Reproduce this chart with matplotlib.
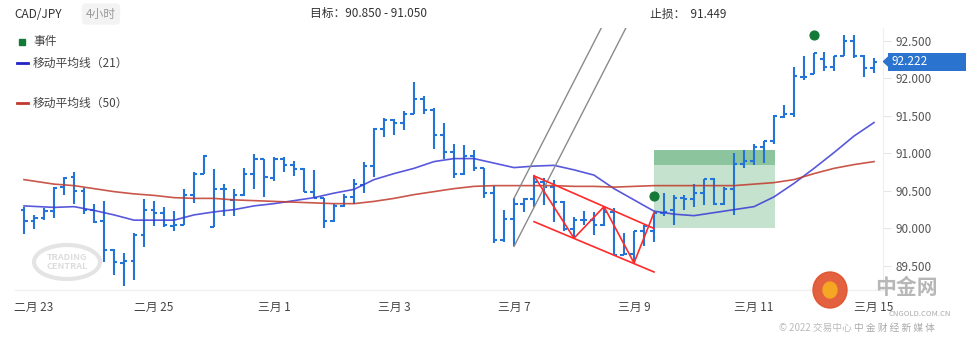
import matplotlib
matplotlib.use("Agg")
import matplotlib.pyplot as plt
import matplotlib.transforms as mtransforms
from matplotlib.patches import Rectangle, Ellipse, Polygon

plt.rcParams["font.family"] = ["Noto Sans CJK SC", "DejaVu Sans"]

# 4h OHLC bars, index 0 = Feb 22 20:00
opens = [90.25, 90.10, 90.14, 90.23, 90.55, 90.68, 90.50, 90.24, 90.10, 89.71,
         89.54, 89.57, 89.91, 90.25, 90.20, 90.03, 90.05, 90.45, 90.73, 90.02,
         90.53, 90.38, 90.44, 90.72, 90.92, 90.67, 90.93, 90.85, 90.79, 90.49,
         90.40, 90.10, 90.30, 90.42, 90.58, 90.83, 91.32, 91.45, 91.41, 91.52,
         91.73, 91.58, 91.24, 91.02, 90.72, 90.96, 90.80, 90.47, 89.84, 90.13,
         90.32, 90.39, 90.62, 90.55, 90.35, 89.99, 90.11, 90.11, 90.04, 90.22,
         89.65, 89.66, 89.97, 89.96, 90.20, 90.24, 90.40, 90.39, 90.47, 90.66,
         90.32, 90.53, 90.86, 90.90, 91.08, 91.17, 91.49, 91.53, 92.02, 92.06,
         92.25, 92.15, 92.29, 92.50, 92.29, 92.14]
highs = [90.29, 90.18, 90.27, 90.55, 90.68, 90.75, 90.54, 90.32, 90.37, 89.72,
         89.67, 89.94, 90.39, 90.37, 90.29, 90.23, 90.53, 90.75, 90.98, 90.79,
         90.59, 90.52, 90.80, 90.99, 90.92, 90.95, 90.95, 90.90, 90.80, 90.78,
         90.40, 90.33, 90.46, 90.66, 90.88, 91.34, 91.47, 91.46, 91.56, 91.95,
         91.76, 91.60, 91.41, 91.12, 91.11, 91.04, 90.80, 90.56, 90.25, 90.40,
         90.40, 90.70, 90.67, 90.65, 90.36, 90.15, 90.23, 90.22, 90.29, 90.27,
         89.94, 89.96, 90.05, 90.21, 90.47, 90.45, 90.45, 90.59, 90.66, 90.67,
         90.55, 91.00, 91.04, 91.13, 91.17, 91.51, 91.65, 92.15, 92.30, 92.34,
         92.35, 92.30, 92.58, 92.58, 92.31, 92.27]
lows = [89.92, 89.99, 90.11, 90.14, 90.45, 90.32, 90.19, 90.07, 89.55, 89.38,
        89.23, 89.31, 89.75, 90.03, 90.02, 89.96, 90.05, 90.34, 90.72, 90.02,
        90.16, 90.17, 90.43, 90.52, 90.42, 90.63, 90.75, 90.70, 90.48, 90.40,
        90.00, 90.08, 90.28, 90.32, 90.47, 90.68, 91.22, 91.25, 91.31, 91.52,
        91.52, 91.06, 90.92, 90.67, 90.71, 90.76, 90.40, 89.80, 89.82, 89.76,
        90.22, 90.29, 90.31, 90.09, 89.97, 89.87, 90.05, 89.91, 90.03, 89.65,
        89.65, 89.54, 89.76, 89.82, 90.17, 90.05, 90.25, 90.29, 90.31, 90.31,
        90.31, 90.18, 90.80, 90.84, 90.87, 91.13, 91.47, 91.49, 91.97, 92.05,
        92.09, 92.09, 92.29, 92.27, 92.02, 92.07]
closes = [90.10, 90.14, 90.23, 90.54, 90.67, 90.50, 90.24, 90.08, 89.71, 89.55,
          89.57, 89.91, 90.25, 90.20, 90.04, 90.05, 90.45, 90.73, 90.97, 90.53,
          90.53, 90.44, 90.72, 90.93, 90.68, 90.93, 90.85, 90.79, 90.49, 90.41,
          90.10, 90.30, 90.42, 90.59, 90.83, 91.33, 91.45, 91.41, 91.52, 91.73,
          91.58, 91.24, 91.02, 90.72, 90.96, 90.80, 90.47, 89.84, 90.13, 90.32,
          90.39, 90.62, 90.55, 90.35, 89.99, 90.11, 90.11, 90.04, 90.22, 89.65,
          89.66, 89.96, 90.03, 90.20, 90.22, 90.40, 90.39, 90.47, 90.66, 90.32,
          90.53, 90.86, 90.90, 91.08, 91.17, 91.50, 91.52, 92.03, 92.01, 92.33,
          92.15, 92.29, 92.50, 92.29, 92.14, 92.22]

# moving averages (bar index, price)
ma_x = [0, 3, 5, 7, 9, 11, 13, 15, 17, 19, 21, 23, 25, 27, 29, 31, 33, 35, 37, 39,
        41, 43, 45, 47, 49, 51, 53, 55, 57, 59, 61, 63, 65, 67, 69, 71, 73, 75, 77,
        79, 81, 83, 85]
ma21 = [90.30, 90.28, 90.29, 90.24, 90.18, 90.11, 90.11, 90.11, 90.18, 90.22, 90.25,
        90.30, 90.33, 90.37, 90.41, 90.47, 90.52, 90.65, 90.73, 90.80, 90.89,
        90.93, 90.93, 90.87, 90.81, 90.83, 90.84, 90.78, 90.71, 90.53, 90.38, 90.23,
        90.19, 90.17, 90.21, 90.25, 90.29, 90.42, 90.60, 90.80, 91.01, 91.23, 91.41]
ma50 = [90.65, 90.59, 90.57, 90.53, 90.49, 90.46, 90.44, 90.41, 90.40, 90.40, 90.38,
        90.37, 90.36, 90.35, 90.34, 90.33, 90.33, 90.36, 90.40, 90.45, 90.49,
        90.53, 90.56, 90.57, 90.57, 90.57, 90.57, 90.56, 90.56, 90.55, 90.56, 90.57,
        90.57, 90.57, 90.57, 90.57, 90.59, 90.61, 90.65, 90.73, 90.80, 90.85, 90.89]

# pattern drawings
zz_x = [51, 55, 58, 61, 63]
zz_y = [90.70, 89.87, 90.29, 89.54, 90.21]
chan_x = [51, 63]
chan_up = [90.70, 90.00]
chan_lo = [90.09, 89.42]
gray_x = [49, 62]
gray_a = [90.40, 93.78]
gray_b = [89.76, 93.14]
box_x = [63, 75.1]
target = [90.85, 91.05]
zone = [90.00, 90.85]
ev_x = [63, 79]
ev_y = [90.43, 92.58]

tick_pos = [1, 13, 25, 37, 49, 61, 73, 85]
tick_lbl = ["二月 23", "二月 25", "三月 1", "三月 3", "三月 7", "三月 9", "三月 11", "三月 15"]
y_ticks = [89.5, 90.0, 90.5, 91.0, 91.5, 92.0, 92.5]
last_price = 92.222

W, H = 966, 343
fig = plt.figure(figsize=(W / 100, H / 100), dpi=100)
ax = fig.add_axes([15 / W, 1 - 290 / H, (883 - 15) / W, (290 - 28) / H])
ax.set_xlim(-0.9, 85.9)
ax.set_ylim(89.18, 92.669)

blue = "#2374d6"

# target / entry box
ax.add_patch(Rectangle((box_x[0], zone[0]), box_x[1] - box_x[0], zone[1] - zone[0],
                       color="#c4e2cd", lw=0, zorder=1))
ax.add_patch(Rectangle((box_x[0], target[0]), box_x[1] - box_x[0], target[1] - target[0],
                       color="#8cc49e", lw=0, zorder=1))

# OHLC bars
tk = 0.35
for i in range(len(opens)):
    ax.plot([i, i], [lows[i], highs[i]], color=blue, lw=1.5, solid_capstyle="butt", zorder=3)
    ax.plot([i - tk, i], [opens[i], opens[i]], color=blue, lw=1.5, solid_capstyle="butt", zorder=3)
    ax.plot([i, i + tk], [closes[i], closes[i]], color=blue, lw=1.5, solid_capstyle="butt", zorder=3)

ax.plot(ma_x, ma21, color="#3b3bd6", lw=1.2, alpha=0.85, zorder=4)
ax.plot(ma_x, ma50, color="#c0392b", lw=1.2, alpha=0.85, zorder=4)

ax.plot(gray_x, gray_a, color="#8a8a8a", lw=1, zorder=5)
ax.plot(gray_x, gray_b, color="#8a8a8a", lw=1, zorder=5)
ax.plot(zz_x, zz_y, color="#ff2a2a", lw=1.2, zorder=5)
ax.plot(chan_x, chan_up, color="#ff2a2a", lw=1.2, zorder=5)
ax.plot(chan_x, chan_lo, color="#ff2a2a", lw=1.2, zorder=5)

ax.scatter(ev_x, ev_y, s=40, color="#137a3a", zorder=6)

# axes styling
for s in ["top", "left", "bottom"]:
    ax.spines[s].set_visible(False)
ax.spines["right"].set_color("#eeeeee")
ax.yaxis.tick_right()
ax.set_yticks(y_ticks)
ax.set_yticklabels([f"{v:.3f}" for v in y_ticks])
ax.tick_params(axis="y", length=6, color="#e6e6e6", labelsize=8.5, labelcolor="#555555", pad=3)
ax.set_xticks(tick_pos)
ax.set_xticklabels(tick_lbl)
ax.tick_params(axis="x", length=0, labelsize=8.5, labelcolor="#444444", pad=8)
ax.axhline(89.18, color="#f0f0f0", lw=1, clip_on=False)

# last price tag
tr = mtransforms.blended_transform_factory(ax.transAxes, ax.transData)
ax.add_patch(Rectangle((1.006, last_price - 0.12), 0.1, 0.24, transform=tr, color="#2a74d0",
                       lw=0, clip_on=False, zorder=9))
ax.add_patch(Polygon([[1.0005, last_price], [1.007, last_price + 0.07], [1.007, last_price - 0.07]],
                     closed=True, transform=tr, color="#2a74d0", clip_on=False, zorder=9))
ax.text(1.010, last_price, f"{last_price:.3f}", transform=tr, color="white", fontsize=8.5,
        va="center", ha="left", zorder=10, clip_on=False)

# header
fig.text(14 / W, 1 - 14 / H, "CAD/JPY", fontsize=8.5, color="#333333", va="center")
fig.text(86 / W, 1 - 14 / H, "4小时", fontsize=8.5, color="#999999", va="center",
         bbox=dict(boxstyle="round,pad=0.35", fc="#f3f3f3", ec="none"))
fig.text(310 / W, 1 - 14 / H, "目标：90.850 - 91.050", fontsize=8.5, color="#333333", va="center")
fig.text(650 / W, 1 - 14 / H, "止损：  91.449", fontsize=8.5, color="#333333", va="center")

# legend
fig.patches.append(Rectangle((19 / W, 1 - 45 / H), 6 / W, 6 / H, color="#137a3a",
                             transform=fig.transFigure, figure=fig))
fig.text(33 / W, 1 - 42 / H, "事件", fontsize=8.5, color="#444444", va="center")
fig.lines.append(plt.Line2D([17 / W, 28 / W], [1 - 63 / H, 1 - 63 / H], color="#2323c8", lw=2,
                            transform=fig.transFigure))
fig.text(33 / W, 1 - 63 / H, "移动平均线（21）", fontsize=8.5, color="#444444", va="center")
fig.lines.append(plt.Line2D([17 / W, 28 / W], [1 - 103 / H, 1 - 103 / H], color="#c0392b", lw=2,
                            transform=fig.transFigure))
fig.text(33 / W, 1 - 103 / H, "移动平均线（50）", fontsize=8.5, color="#444444", va="center")

# watermarks
fig.patches.append(Ellipse((67 / W, 1 - 262 / H), 66 / W, 34 / H, fill=False, ec="#e4e4e4", lw=3,
                           transform=fig.transFigure, figure=fig))
fig.text(67 / W, 1 - 262 / H, "TRADING\nCENTRAL", fontsize=6.5, fontweight="bold", color="#dddddd",
         ha="center", va="center", linespacing=0.9)
fig.patches.append(Ellipse((830 / W, 1 - 290 / H), 34 / W, 36 / H, color="#e0502a", alpha=0.9,
                           transform=fig.transFigure, figure=fig))
fig.patches.append(Ellipse((830 / W, 1 - 290 / H), 14 / W, 16 / H, color="#f5a623",
                           transform=fig.transFigure, figure=fig))
fig.text(906 / W, 1 - 288 / H, "中金网", fontsize=15, fontweight="bold", color="#b0b0b0",
         ha="center", va="center", alpha=0.9)
fig.text(920 / W, 1 - 314 / H, "CNGOLD.COM.CN", fontsize=5.5, color="#aaaaaa", ha="center", va="center")
fig.text(895 / W, 1 - 328 / H, "中 金 财 经 新 媒 体", fontsize=7, color="#aaaaaa", ha="center", va="center")
fig.text(815 / W, 1 - 328 / H, "© 2022 交易中心", fontsize=7, color="#bbbbbb", ha="center", va="center")

fig.savefig("out.png", dpi=100)
